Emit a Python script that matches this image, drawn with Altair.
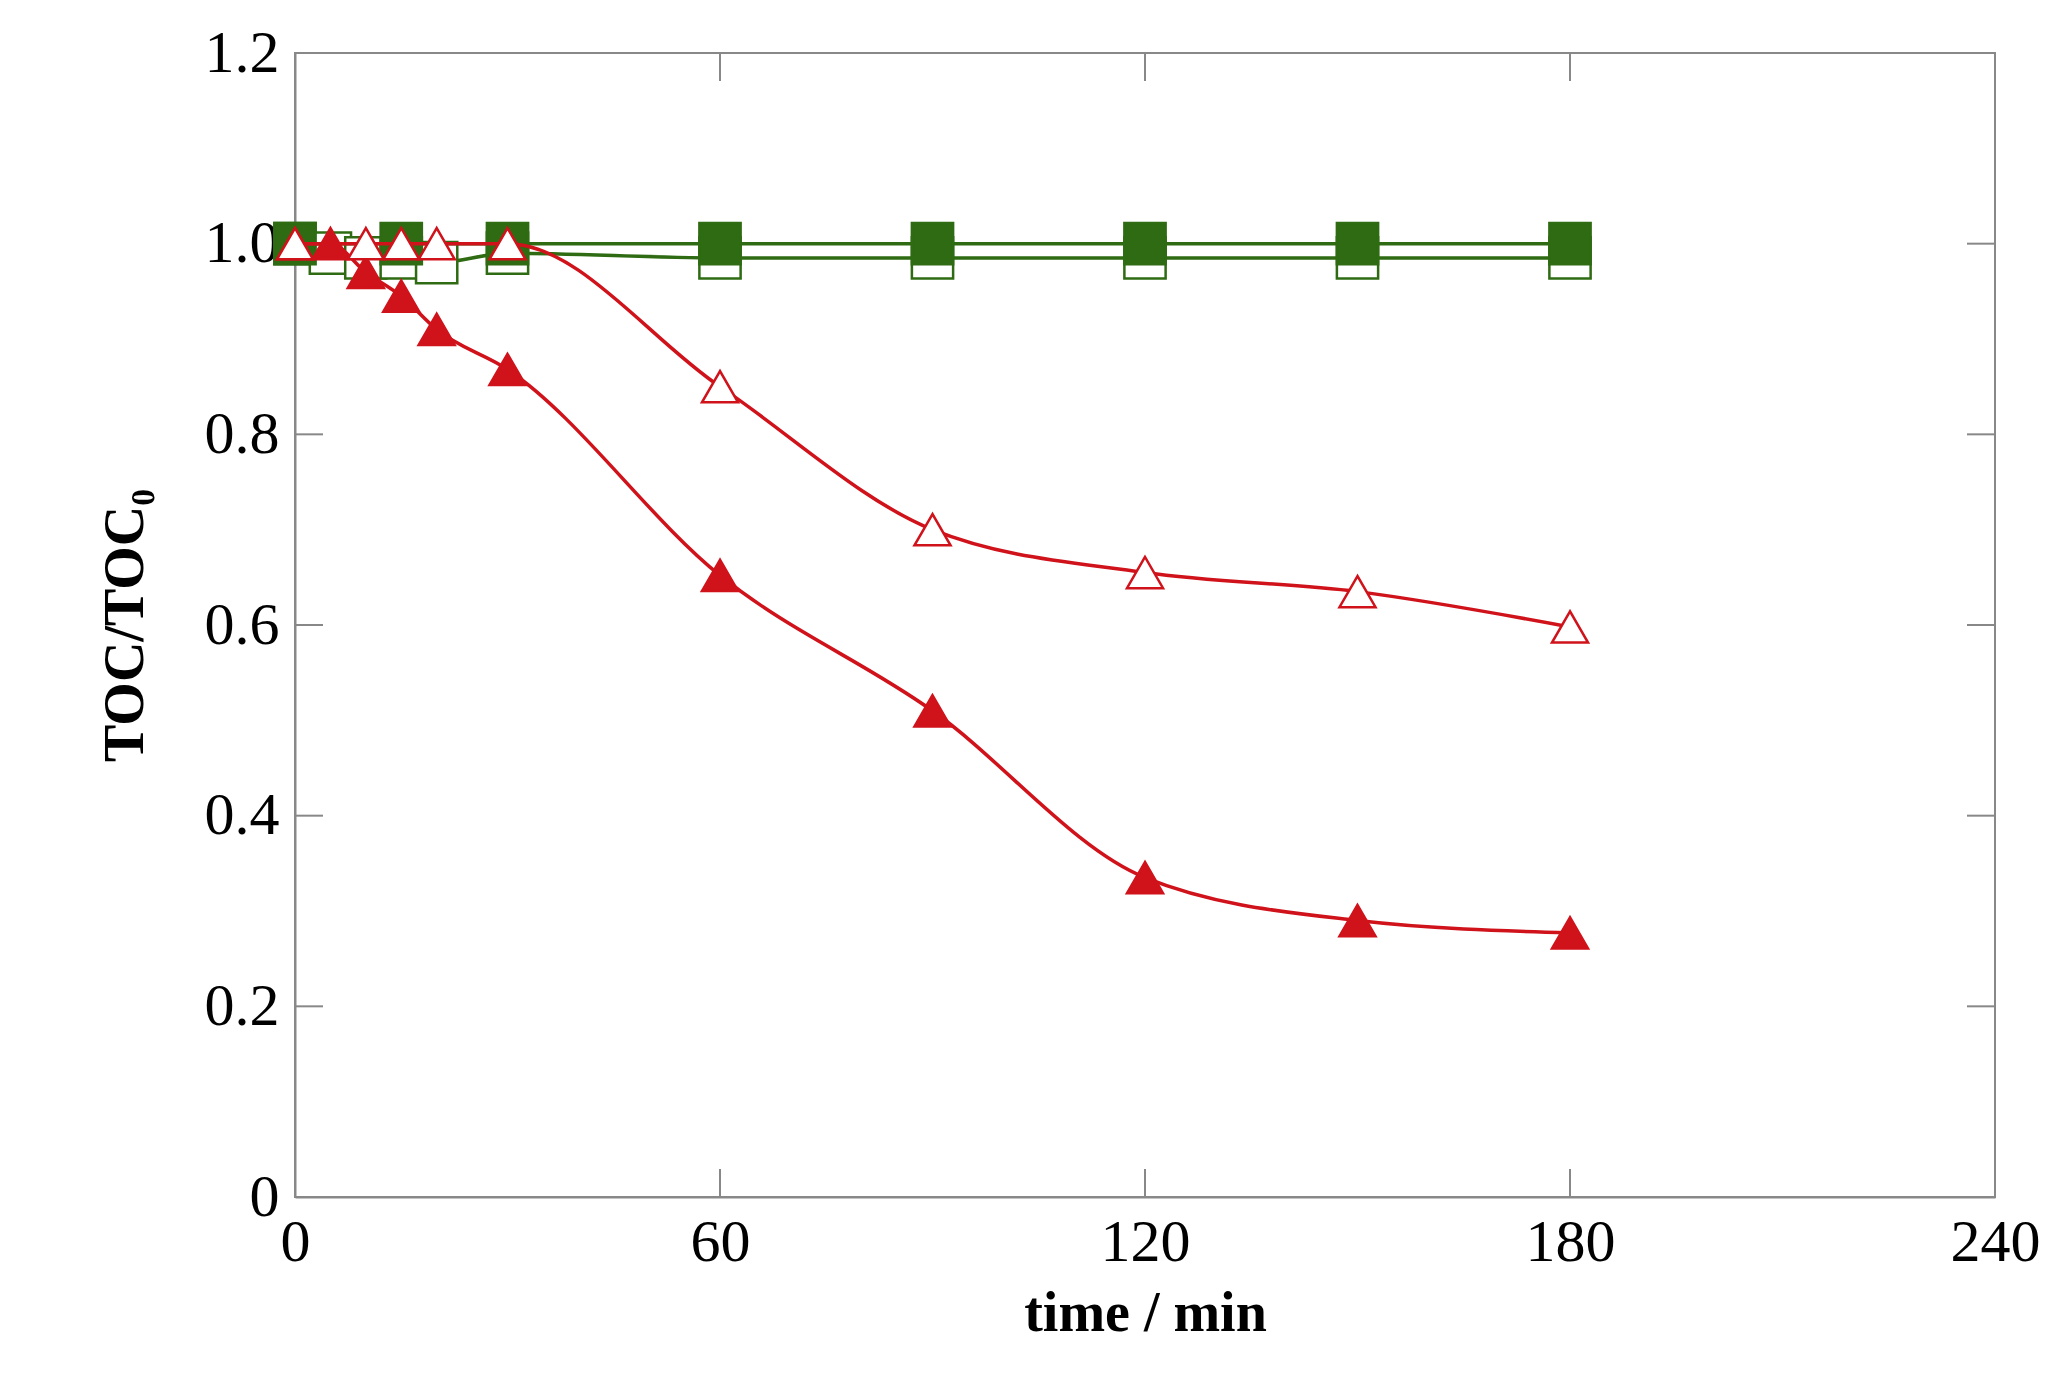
import pandas as pd
import altair as alt

# open green squares
t_gs_open = [0, 5, 10, 15, 20, 30, 60, 90, 120, 150, 180]
v_gs_open = [1.0, 0.99, 0.985, 0.985, 0.98, 0.99, 0.985, 0.985, 0.985, 0.985, 0.985]
# filled green squares
t_gs = [0, 15, 30, 60, 90, 120, 150, 180]
v_gs = [1.0, 1.0, 1.0, 1.0, 1.0, 1.0, 1.0, 1.0]
# open red triangles
t_rt_open = [0, 10, 15, 20, 30, 60, 90, 120, 150, 180]
v_rt_open = [1.0, 1.0, 1.0, 1.0, 1.0, 0.85, 0.70, 0.655, 0.635, 0.598]
# filled red triangles
t_rt = [0, 5, 10, 15, 20, 30, 60, 90, 120, 150, 180]
v_rt = [1.0, 1.0, 0.97, 0.945, 0.91, 0.868, 0.652, 0.51, 0.335, 0.29, 0.277]

x_ticks = [0, 60, 120, 180, 240]
y_ticks = [0, 0.2, 0.4, 0.6, 0.8, 1.0, 1.2]

RED = "#d0121b"
GREEN = "#2e6b12"
FONT = "Liberation Serif"

xs = alt.Scale(domain=[0, 240], nice=False)
ys = alt.Scale(domain=[0, 1.2], nice=False)


def series(t, v, color, shape, size, filled):
    df = pd.DataFrame({"t": t, "v": v})
    base = alt.Chart(df).encode(
        x=alt.X("t:Q", scale=xs),
        y=alt.Y("v:Q", scale=ys),
    )
    line = base.mark_line(color=color, strokeWidth=3.5, interpolate="monotone")
    pts = base.mark_point(
        shape=shape, size=size, filled=True, opacity=1,
        fill=color if filled else "white", stroke=color, strokeWidth=2.5,
    )
    return line + pts


axes = alt.Chart(pd.DataFrame({"t": [0], "v": [0]})).mark_point(opacity=0).encode(
    x=alt.X("t:Q", scale=xs, title="time / min",
            axis=alt.Axis(values=x_ticks, labelFontSize=60, titleFontSize=56, labelFlush=False,
                          titleFontWeight="bold", labelPadding=16, titlePadding=14)),
    y=alt.Y("v:Q", scale=ys, title="TOC/TOC₀",
            axis=alt.Axis(values=y_ticks, labelFontSize=60, titleFontSize=56, labelFlush=False,
                          titleFontWeight="bold", labelPadding=16, titlePadding=50,
                          labelExpr="datum.value == 0 ? '0' : format(datum.value, '.1f')")),
)

# inward tick marks on all four sides
yt = pd.DataFrame({"v": y_ticks[1:-1]})
xt = pd.DataFrame({"t": x_ticks[1:-1]})
tk = dict(color="#888888", strokeWidth=2)
ticks = (
    alt.Chart(yt).mark_rule(**tk).encode(y=alt.Y("v:Q", scale=ys), x=alt.value(0), x2=alt.value(28))
    + alt.Chart(yt).mark_rule(**tk).encode(y=alt.Y("v:Q", scale=ys), x=alt.value(1672), x2=alt.value(1700))
    + alt.Chart(xt).mark_rule(**tk).encode(x=alt.X("t:Q", scale=xs), y=alt.value(1144), y2=alt.value(1116))
    + alt.Chart(xt).mark_rule(**tk).encode(x=alt.X("t:Q", scale=xs), y=alt.value(0), y2=alt.value(28))
)

chart = (
    axes + ticks
    + series(t_gs_open, v_gs_open, GREEN, "square", 1700, False)
    + series(t_gs, v_gs, GREEN, "square", 1700, True)
    + series(t_rt, v_rt, RED, "triangle-up", 1300, True)
    + series(t_rt_open, v_rt_open, RED, "triangle-up", 1300, False)
).properties(
    width=1700, height=1144,
    autosize=alt.AutoSizeParams(type="none"),
    padding={"left": 287, "top": 45, "right": 55, "bottom": 180},
).configure_axis(
    grid=False, labelFont=FONT, titleFont=FONT, labelColor="black", titleColor="black",
    domainColor="#888888", domainWidth=2, tickSize=0,
).configure_view(stroke="#888888", strokeWidth=2)

chart.save("out.html", embed_options={"renderer": "svg", "actions": False})
